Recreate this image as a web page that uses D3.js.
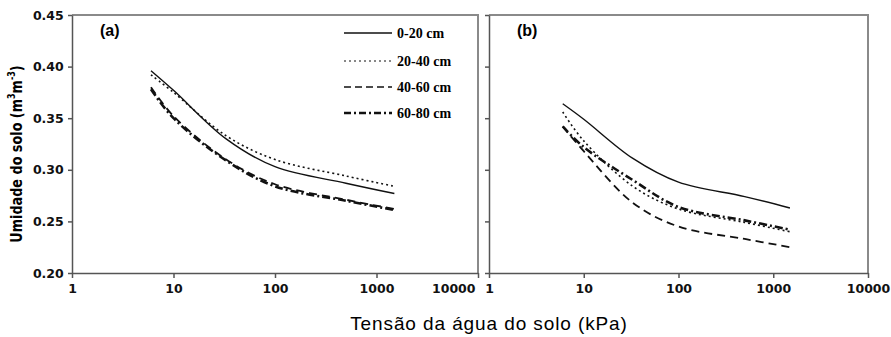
<!DOCTYPE html>
<html>
<head>
<meta charset="utf-8">
<title>Umidade do solo</title>
<script src="https://cdn.jsdelivr.net/npm/d3@7"></script>
<style>
  body { margin: 0; background: #fff; }
  .tick text { font-family: "DejaVu Sans", sans-serif; font-weight: bold; font-size: 12.5px; fill: #111; }
</style>
</head>
<body>
<svg width="891" height="337"></svg>
<script>
// tensões medidas (kPa)
var kPa = [6, 10, 33, 100, 500, 1500];
var depths = ["0-20 cm", "20-40 cm", "40-60 cm", "60-80 cm"];

// (a) umidade por camada
var soloA = [
  [0.396, 0.377, 0.330, 0.303, 0.287, 0.277],
  [0.392, 0.375, 0.333, 0.310, 0.294, 0.284],
  [0.380, 0.352, 0.310, 0.286, 0.271, 0.262],
  [0.378, 0.350, 0.309, 0.284, 0.270, 0.261]
];
// (b)
var soloB = [
  [0.364, 0.349, 0.311, 0.288, 0.274, 0.263],
  [0.356, 0.328, 0.284, 0.262, 0.249, 0.240],
  [0.342, 0.318, 0.268, 0.245, 0.233, 0.225],
  [0.342, 0.322, 0.290, 0.264, 0.251, 0.242]
];

var xTicks = [1, 10, 100, 1000, 10000];
var yTicks = [0.20, 0.25, 0.30, 0.35, 0.40, 0.45];

var dash = ["none", "2,3", "8,5", "8,3,2,3"];
var widths = [1.4, 1.6, 1.8, 2.6];

var svg = d3.select("svg");
var plotTop = 15, plotBottom = 273;

var y = d3.scaleLinear().domain([0.20, 0.45]).range([plotBottom, plotTop]);

var panels = [
  { x0: 72, x1: 478, data: soloA, label: "(a)", labels: true },
  { x0: 489, x1: 868, data: soloB, label: "(b)", labels: false }
];

panels.forEach(function (p, pi) {
  var x = d3.scaleLog().domain([1, 10000]).range([p.x0, p.x1]);
  var g = svg.append("g");

  // moldura
  g.append("path")
    .attr("d", "M" + p.x0 + "," + plotTop + "H" + p.x1 + "V" + plotBottom)
    .attr("fill", "none").attr("stroke", "#8a8a8a").attr("stroke-width", 2);

  var ax = g.append("g")
    .attr("transform", "translate(0," + plotBottom + ")")
    .call(d3.axisBottom(x).tickValues(xTicks).tickFormat(d3.format("d")).tickSize(5).tickSizeOuter(0));
  ax.selectAll("text").attr("dy", "0.95em");
  if (pi == 0) {
    ax.selectAll("text").filter(function (d) { return d == 10000; })
      .attr("text-anchor", "end").attr("x", -3);
  }

  var ay = g.append("g")
    .attr("transform", "translate(" + p.x0 + ",0)")
    .call(d3.axisLeft(y).tickValues(yTicks).tickFormat(p.labels ? d3.format(".2f") : function () { return ""; })
      .tickSize(4).tickSizeOuter(0));
  ay.selectAll("text").attr("dx", "-0.1em");

  g.selectAll(".domain, .tick line").attr("stroke", "#555").attr("stroke-width", 1.5);

  var line = d3.line()
    .x(function (d, i) { return x(kPa[i]); })
    .y(function (d) { return y(d); })
    .curve(d3.curveCatmullRom.alpha(0.5));

  g.selectAll(".serie")
    .data(p.data)
    .enter()
    .append("path")
    .attr("class", "serie")
    .attr("d", line)
    .attr("fill", "none")
    .attr("stroke", "#111")
    .attr("stroke-width", function (d, i) { return widths[i]; })
    .attr("stroke-dasharray", function (d, i) { return dash[i]; });

  g.append("text")
    .attr("x", p.x0 + 28).attr("y", 36)
    .style("font-family", "Liberation Sans, Arial, sans-serif")
    .style("font-size", "16px")
    .style("font-weight", "bold")
    .text(p.label);
});

// legenda
var leg = svg.append("g").selectAll("g")
  .data(depths)
  .enter()
  .append("g")
  .attr("transform", function (d, i) { return "translate(344," + [33, 61, 87, 113][i] + ")"; });

leg.append("line")
  .attr("x1", 0).attr("x2", 48)
  .attr("stroke", "#111")
  .attr("stroke-width", function (d, i) { return [1.6, 1, 1.4, 2.4][i]; })
  .attr("stroke-dasharray", function (d, i) { return ["none", "2,3", "7,4", "7,3,2,3"][i]; });

leg.append("text")
  .attr("x", 53).attr("y", 5)
  .style("font-family", "Liberation Serif, Times New Roman, serif")
  .style("font-size", "14px")
  .style("font-weight", "bold")
  .text(function (d) { return d; });

// títulos dos eixos
svg.append("text")
  .attr("x", 489).attr("y", 330)
  .attr("text-anchor", "middle")
  .style("font-family", "Liberation Sans, Arial, sans-serif")
  .style("font-size", "19px")
  .style("letter-spacing", "0.9px")
  .text("Tensão da água do solo (kPa)");

var yt = svg.append("text")
  .attr("transform", "translate(22,154) rotate(-90) scale(0.8,1)")
  .attr("text-anchor", "middle")
  .style("font-family", "DejaVu Sans, sans-serif")
  .style("font-size", "16px")
  .style("font-weight", "bold");
yt.append("tspan").text("Umidade do solo (m");
yt.append("tspan").attr("dy", -7).style("font-size", "10px").text("3");
yt.append("tspan").attr("dy", 7).text("m");
yt.append("tspan").attr("dy", -7).style("font-size", "10px").text("-3");
yt.append("tspan").attr("dy", 7).text(")");
</script>
</body>
</html>
